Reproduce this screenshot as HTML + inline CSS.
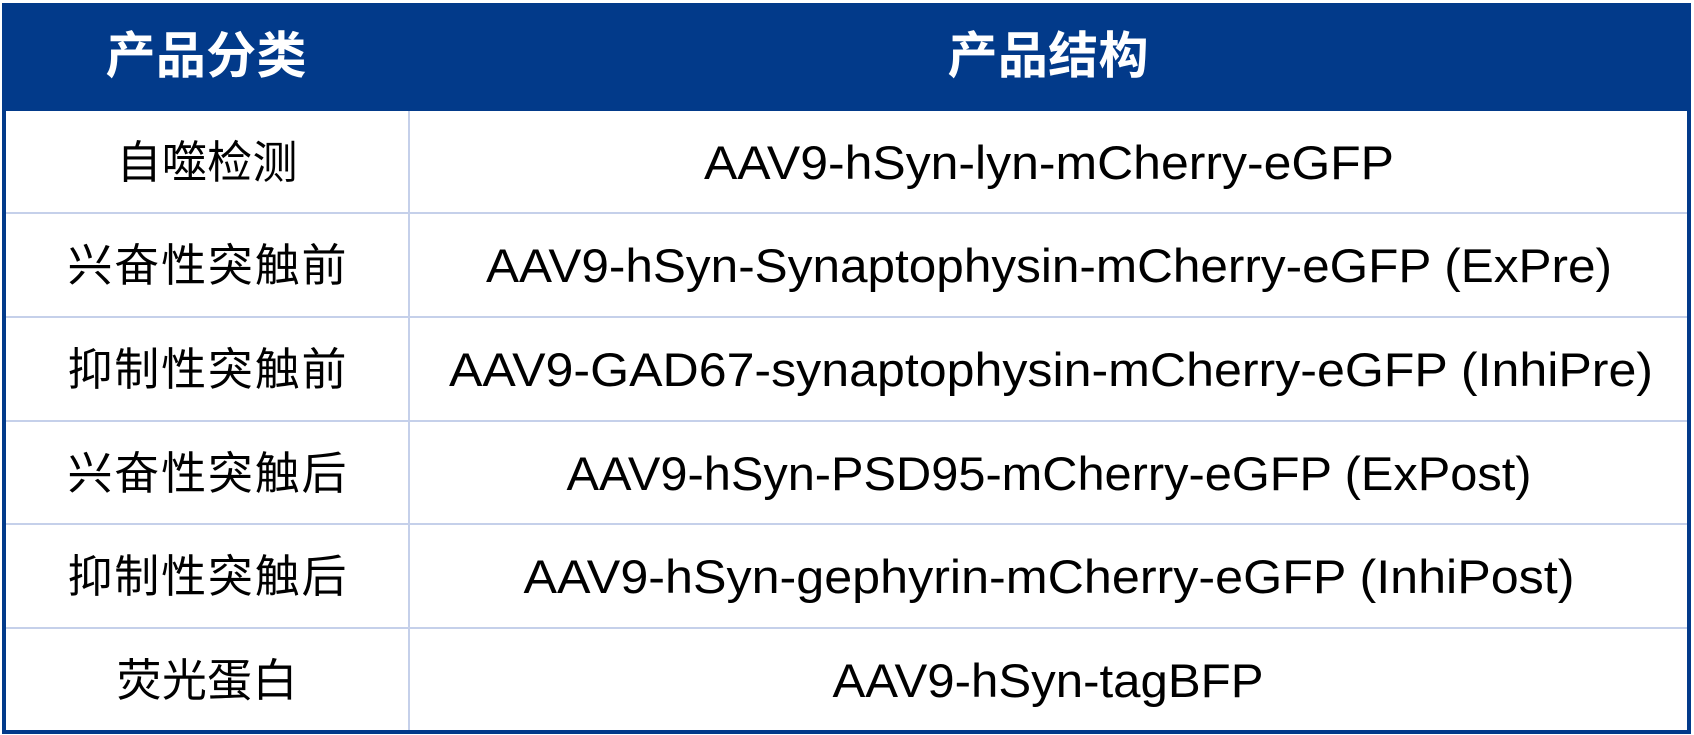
<!DOCTYPE html>
<html><head><meta charset="utf-8"><style>
html,body{margin:0;padding:0;background:#fff;width:1694px;height:735px;overflow:hidden}
svg{display:block}
.cn{font-family:"Liberation Sans","Noto Sans CJK SC",sans-serif;font-size:45px;fill:#000}
.en{font-family:"Liberation Sans","Noto Sans CJK SC",sans-serif;font-size:47px;fill:#000}
.hd{font-family:"Liberation Sans","Noto Sans CJK SC",sans-serif;font-size:50px;font-weight:bold;fill:#fff}
</style></head><body>
<svg width="1694" height="735" xmlns="http://www.w3.org/2000/svg">
<rect x="0" y="0" width="1694" height="735" fill="#fff"/>
<rect x="3" y="4" width="1687" height="107" fill="#023a8a"/>
<g stroke="#c5d0ea" stroke-width="2">
<line x1="409" y1="111" x2="409" y2="731"/>
<line x1="4" y1="213" x2="1689" y2="213"/>
<line x1="4" y1="317" x2="1689" y2="317"/>
<line x1="4" y1="421" x2="1689" y2="421"/>
<line x1="4" y1="524" x2="1689" y2="524"/>
<line x1="4" y1="628" x2="1689" y2="628"/>
</g>
<rect x="4" y="5" width="1685" height="727" fill="none" stroke="#023a8a" stroke-width="4"/>
<text class="hd" x="206" y="73" text-anchor="middle" textLength="201">产品分类</text>
<text class="hd" x="1048" y="73" text-anchor="middle" textLength="201">产品结构</text>
<g class="cn" text-anchor="middle">
<text x="207" y="178" textLength="181">自噬检测</text>
<text x="207" y="281" textLength="279">兴奋性突触前</text>
<text x="207" y="385" textLength="279">抑制性突触前</text>
<text x="207" y="489" textLength="279">兴奋性突触后</text>
<text x="207" y="592" textLength="279">抑制性突触后</text>
<text x="207" y="696" textLength="181">荧光蛋白</text>
</g>
<g class="en" text-anchor="middle">
<text x="1049" y="179" textLength="690" lengthAdjust="spacingAndGlyphs">AAV9-hSyn-lyn-mCherry-eGFP</text>
<text x="1049" y="282" textLength="1126" lengthAdjust="spacingAndGlyphs">AAV9-hSyn-Synaptophysin-mCherry-eGFP (ExPre)</text>
<text x="1051" y="386" textLength="1204" lengthAdjust="spacingAndGlyphs">AAV9-GAD67-synaptophysin-mCherry-eGFP (InhiPre)</text>
<text x="1049" y="490" textLength="965" lengthAdjust="spacingAndGlyphs">AAV9-hSyn-PSD95-mCherry-eGFP (ExPost)</text>
<text x="1049" y="593" textLength="1051" lengthAdjust="spacingAndGlyphs">AAV9-hSyn-gephyrin-mCherry-eGFP (InhiPost)</text>
<text x="1048" y="697" textLength="431" lengthAdjust="spacingAndGlyphs">AAV9-hSyn-tagBFP</text>
</g>
</svg>
</body></html>
